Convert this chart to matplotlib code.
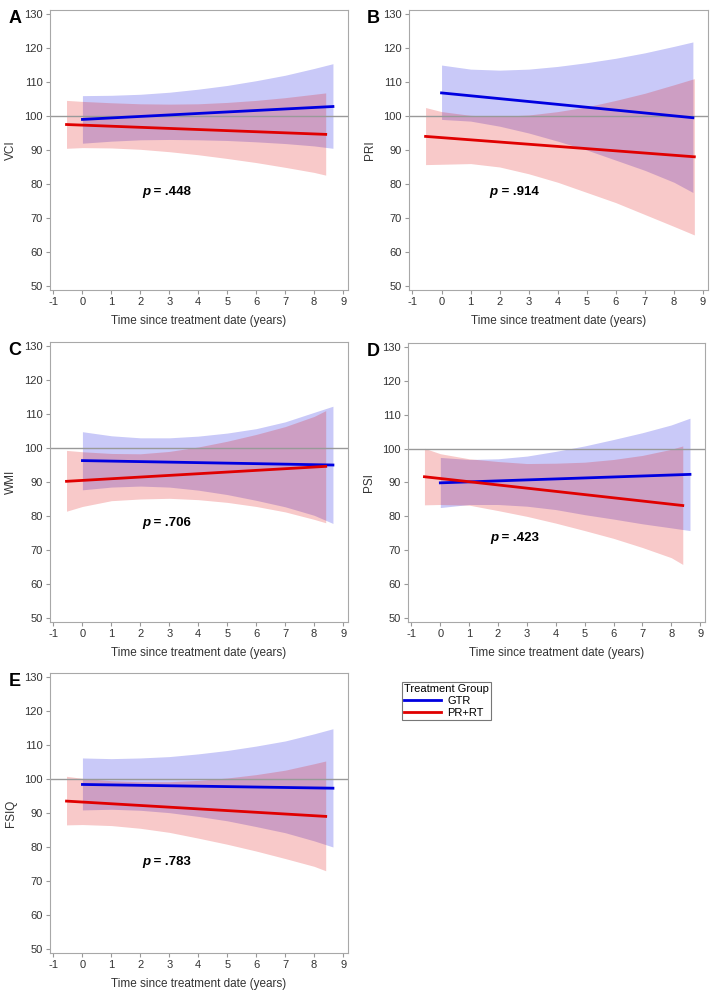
import matplotlib
matplotlib.use("Agg")
import matplotlib.pyplot as plt
from matplotlib.lines import Line2D

plt.rcParams["font.family"] = ["Liberation Sans", "DejaVu Sans"]
plt.rcParams["axes.unicode_minus"] = False

BLUE = "#0000e0"
RED = "#e00000"

red_x = [-0.55, 0, 1, 2, 3, 4, 5, 6, 7, 8, 8.4]
red_x_pri = [-0.55, 0, 1, 2, 3, 4, 5, 6, 7, 8, 8.7]
blue_x = [0, 1, 2, 3, 4, 5, 6, 7, 8, 8.65]

# --- A: VCI ---
vci_blue_hi = [106.0, 106.1, 106.4, 107.0, 107.9, 109.0, 110.4, 112.0, 114.0, 115.4]
vci_blue_lo = [92.0, 92.6, 93.0, 93.1, 93.0, 92.8, 92.4, 91.9, 91.2, 90.5]
vci_red_hi = [104.6, 104.3, 103.9, 103.6, 103.5, 103.6, 104.0, 104.6, 105.4, 106.4, 106.8]
vci_red_lo = [90.5, 90.7, 90.6, 90.2, 89.5, 88.6, 87.5, 86.3, 84.9, 83.4, 82.6]
vci_blue_fit = [99.0, 102.8]
vci_red_fit = [97.5, 94.6]

# --- B: PRI ---
pri_blue_hi = [115.0, 113.8, 113.5, 113.8, 114.6, 115.7, 117.0, 118.6, 120.5, 121.8]
pri_blue_lo = [99.0, 98.5, 97.0, 95.0, 92.6, 90.0, 87.0, 84.0, 80.5, 77.5]
pri_red_hi = [102.5, 101.3, 100.2, 99.9, 100.3, 101.3, 102.7, 104.6, 106.7, 109.2, 111.0]
pri_red_lo = [85.7, 85.8, 86.0, 85.0, 83.0, 80.5, 77.5, 74.5, 71.0, 67.5, 65.0]
pri_blue_fit = [106.8, 99.5]
pri_red_fit = [94.0, 88.0]

# --- C: WMI ---
wmi_blue_hi = [104.8, 103.6, 103.0, 103.0, 103.5, 104.4, 105.7, 107.7, 110.5, 112.3]
wmi_blue_lo = [87.7, 88.5, 88.8, 88.5, 87.6, 86.3, 84.6, 82.7, 80.2, 77.8]
wmi_red_hi = [99.3, 98.9, 98.4, 98.3, 99.0, 100.3, 102.0, 104.0, 106.3, 109.3, 111.0]
wmi_red_lo = [81.4, 82.8, 84.5, 85.0, 85.2, 84.8, 84.0, 82.8, 81.2, 79.0, 78.0]
wmi_blue_fit = [96.3, 95.0]
wmi_red_fit = [90.2, 94.6]

# --- D: PSI ---
psi_blue_hi = [97.4, 96.8, 97.0, 97.8, 99.2, 100.8, 102.7, 104.7, 107.0, 109.0]
psi_blue_lo = [82.6, 83.5, 83.5, 83.0, 82.0, 80.5, 79.2, 77.8, 76.6, 75.8]
psi_red_hi = [100.1, 98.5, 97.0, 96.2, 95.6, 95.7, 96.0, 96.8, 98.0, 99.8, 100.8]
psi_red_lo = [83.4, 83.5, 83.3, 81.7, 80.0, 78.0, 75.8, 73.5, 70.8, 67.8, 65.8]
psi_blue_fit = [89.9, 92.4]
psi_red_fit = [91.7, 83.2]

# --- E: FSIQ ---
fsiq_blue_hi = [106.2, 106.0, 106.2, 106.6, 107.4, 108.4, 109.7, 111.2, 113.3, 114.8]
fsiq_blue_lo = [90.9, 91.1, 90.8, 90.1, 89.0, 87.7, 86.0, 84.2, 81.8, 80.0]
fsiq_red_hi = [100.8, 100.2, 99.5, 99.2, 99.2, 99.6, 100.3, 101.3, 102.6, 104.5, 105.3]
fsiq_red_lo = [86.5, 86.6, 86.3, 85.5, 84.3, 82.6, 80.8, 78.8, 76.6, 74.3, 73.0]
fsiq_blue_fit = [98.4, 97.3]
fsiq_red_fit = [93.5, 89.0]

p_labels = [".448", ".914", ".706", ".423", ".783"]
p_pos = [(2.05, 77.7), (1.65, 77.5), (2.05, 77.9), (1.72, 73.6), (2.05, 75.7)]


def draw_panel(rect, letter, ylabel, rx, bx, bhi, blo, rhi, rlo, bfit, rfit, ptxt, ppos):
    ax = fig.add_axes(rect)
    ax.fill_between(bx, blo, bhi, color=BLUE, alpha=0.21, linewidth=0)
    ax.fill_between(rx, rlo, rhi, color=RED, alpha=0.21, linewidth=0)
    ax.axhline(100, color="#999999", linewidth=1.0)
    ax.plot([bx[0], bx[-1]], bfit, color=BLUE, linewidth=2)
    ax.plot([rx[0], rx[-1]], rfit, color=RED, linewidth=2)
    ax.set_xlim(-1.12, 9.17)
    ax.set_ylim(48.8, 131.2)
    ax.set_xticks(range(-1, 10))
    ax.set_yticks(range(50, 131, 10))
    ax.tick_params(labelsize=8, length=3, width=0.8, pad=2,
                   colors="#999999", labelcolor="#333333")
    for s in ax.spines.values():
        s.set_color("#a8a8a8")
    ax.set_ylabel(ylabel, fontsize=8.5, color="#333333")
    ax.yaxis.set_label_coords(-0.11, 0.5)
    ax.set_xlabel("Time since treatment date (years)", fontsize=8.5, color="#333333",
                  labelpad=6)
    t = ax.text(ppos[0], ppos[1], "p", fontsize=9.5, fontweight="bold", fontstyle="italic",
                va="center")
    ax.annotate(" = " + ptxt, xy=(1, 0), xycoords=t, va="bottom", fontsize=9.5,
                fontweight="bold")
    ax.text(-0.14, 1.0, letter, transform=ax.transAxes, fontsize=13, fontweight="bold",
            va="top", ha="left")
    return ax


fig = plt.figure(figsize=(7.2, 9.96), dpi=100)

W, H = 720, 996
def rect(l, r, t, b):
    return [l / W, 1 - b / H, (r - l) / W, (b - t) / H]

draw_panel(rect(50, 348, 10, 290), "A", "VCI", red_x, blue_x, vci_blue_hi, vci_blue_lo,
           vci_red_hi, vci_red_lo, vci_blue_fit, vci_red_fit, p_labels[0], p_pos[0])
draw_panel(rect(409, 708, 10, 290), "B", "PRI", red_x_pri, blue_x, pri_blue_hi, pri_blue_lo,
           pri_red_hi, pri_red_lo, pri_blue_fit, pri_red_fit, p_labels[1], p_pos[1])
draw_panel(rect(50, 348, 342, 622), "C", "WMI", red_x, blue_x, wmi_blue_hi, wmi_blue_lo,
           wmi_red_hi, wmi_red_lo, wmi_blue_fit, wmi_red_fit, p_labels[2], p_pos[2])
draw_panel(rect(408, 705, 343, 622), "D", "PSI", red_x, blue_x, psi_blue_hi, psi_blue_lo,
           psi_red_hi, psi_red_lo, psi_blue_fit, psi_red_fit, p_labels[3], p_pos[3])
draw_panel(rect(50, 348, 673, 953), "E", "FSIQ", red_x, blue_x, fsiq_blue_hi, fsiq_blue_lo,
           fsiq_red_hi, fsiq_red_lo, fsiq_blue_fit, fsiq_red_fit, p_labels[4], p_pos[4])

handles = [Line2D([], [], color=BLUE, linewidth=2), Line2D([], [], color=RED, linewidth=2)]
leg = fig.legend(handles, ["GTR", "PR+RT"], title="Treatment Group", loc="upper left",
                 bbox_to_anchor=(402 / W, 1 - 682 / H), fontsize=8, title_fontsize=8,
                 frameon=True, fancybox=False, edgecolor="#555555", handlelength=3.3,
                 borderpad=0.2, labelspacing=0.15, handletextpad=0.6, borderaxespad=0)
leg.get_frame().set_linewidth(0.8)
leg._legend_box.align = "left"

fig.savefig("out.png", dpi=100)
